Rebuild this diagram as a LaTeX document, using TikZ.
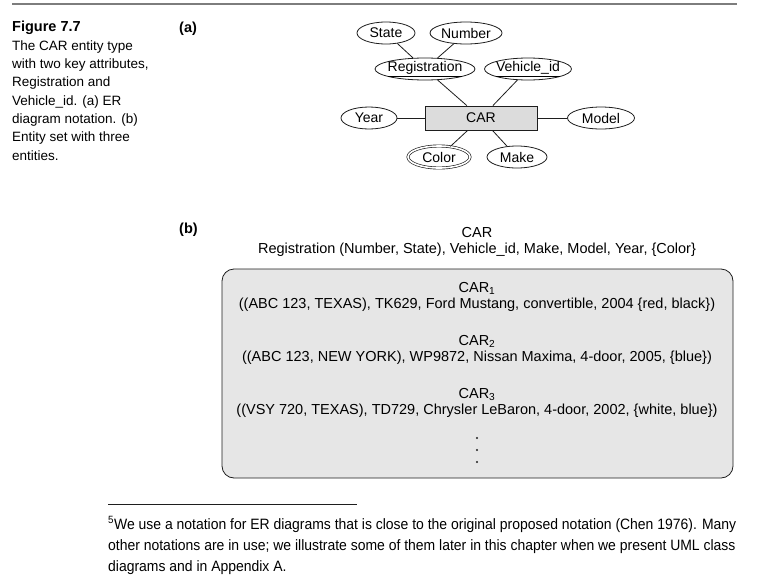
\documentclass[tikz,border=0pt]{standalone}
\usepackage{fontspec}
\setmainfont{Liberation Sans}
\newfontfamily\notefont[FakeStretch=0.93]{Liberation Sans}
\usetikzlibrary{shapes.geometric}
\definecolor{rulegray}{RGB}{125,125,125}
\definecolor{inkgray}{RGB}{30,30,30}
\definecolor{entfill}{RGB}{220,220,220}
\definecolor{setfill}{RGB}{230,230,230}

\begin{document}
\begin{tikzpicture}[x=1pt,y=-1pt,
  attr/.style={ellipse,draw=inkgray,line width=0.8pt,inner xsep=-3pt,inner ysep=0pt,
    minimum height=22pt,font=\fontsize{14}{16}\selectfont},
  multi/.style={double=white,double distance=1.6pt,line width=0.65pt},
  entity/.style={draw=inkgray,line width=0.8pt,fill=entfill,minimum width=112pt,
    minimum height=24pt,inner sep=0pt,font=\fontsize{14}{16}\selectfont},
  link/.style={inkgray,line width=0.8pt},
  capt/.style={anchor=base west,inner sep=0pt,align=left,font=\fontsize{13.5}{18.3}\selectfont},
  setline/.style={anchor=base,inner sep=0pt,align=center,font=\fontsize{14.5}{15.5}\selectfont}]
  \fill[white] (0,0) rectangle (760,576);
  \draw[rulegray,line width=2pt] (12,4) -- (737,4);
  % caption (base = last line)
  \node[capt] (capt) at (12,160) {{\fontsize{14.5}{18.3}\selectfont\bfseries Figure 7.7}\\The CAR entity type\\with two key attributes,\\Registration and\\Vehicle\_id. (a) ER\\diagram notation. (b)\\Entity set with three\\entities.};
  \node[capt,font=\fontsize{14.5}{18}\selectfont\bfseries] (parta) at (179,32) {(a)};
  \node[capt,font=\fontsize{14.5}{18}\selectfont\bfseries] (partb) at (179,233) {(b)};
  % (a) ER diagram
  \node[entity] (car) at (481,118) {CAR};
  \node[attr,minimum width=58pt] (state) at (386,33) {State};
  \node[attr,minimum width=72pt] (number) at (466,33) {Number};
  \node[attr,minimum width=100pt] (regist) at (425,69) {\underline{Registration}};
  \node[attr,minimum width=87pt] (vehid) at (528,69) {\underline{Vehicle\_id}};
  \node[attr,minimum width=56pt] (year) at (369,118) {Year};
  \node[attr,minimum width=67pt] (model) at (601,118) {Model};
  \node[attr,multi,minimum width=62pt,minimum height=22pt] (color) at (439,157) {Color};
  \node[attr,minimum width=60pt] (make) at (517,157) {Make};
  \draw[link] (state) -- (regist);
  \draw[link] (number) -- (regist);
  \draw[link] (regist) -- (car);
  \draw[link] (vehid) -- (car);
  \draw[link] (year) -- (car);
  \draw[link] (car) -- (model);
  \draw[link] (car) -- (color);
  \draw[link] (car) -- (make);
  % (b) entity set (base = second line)
  \node[setline] (settype) at (477,253) {CAR\\Registration (Number, State), Vehicle\_id, Make, Model, Year, \{Color\}};
  \draw[inkgray,line width=0.8pt,fill=setfill,rounded corners=12pt] (222,269) rectangle (733,478);
  \begin{scope}[every node/.append style={font=\fontsize{14.7}{15.5}\selectfont}]
    \node[setline] (ent1) at (477,308) {CAR\textsubscript{1}\\((ABC 123, TEXAS), TK629, Ford Mustang, convertible, 2004 \{red, black\})};
    \node[setline] (ent2) at (477,361) {CAR\textsubscript{2}\\((ABC 123, NEW YORK), WP9872, Nissan Maxima, 4-door, 2005, \{blue\})};
    \node[setline] (ent3) at (477,414) {CAR\textsubscript{3}\\((VSY 720, TEXAS), TD729, Chrysler LeBaron, 4-door, 2002, \{white, blue\})};
  \end{scope}
  \foreach \y in {438,450,462}
    \fill[inkgray] (477,\y) circle (1.2pt);
  % footnote
  \draw[inkgray,line width=0.6pt] (108,504) -- (357,504);
  \node[anchor=base west,inner sep=0pt,font=\notefont\fontsize{15}{21}\selectfont,align=left] (note) at (108,571)
    {\textsuperscript{5}We use a notation for ER diagrams that is close to the original proposed notation (Chen 1976). Many\\other notations are in use; we illustrate some of them later in this chapter when we present UML class\\diagrams and in Appendix A.};
\end{tikzpicture}
\end{document}
